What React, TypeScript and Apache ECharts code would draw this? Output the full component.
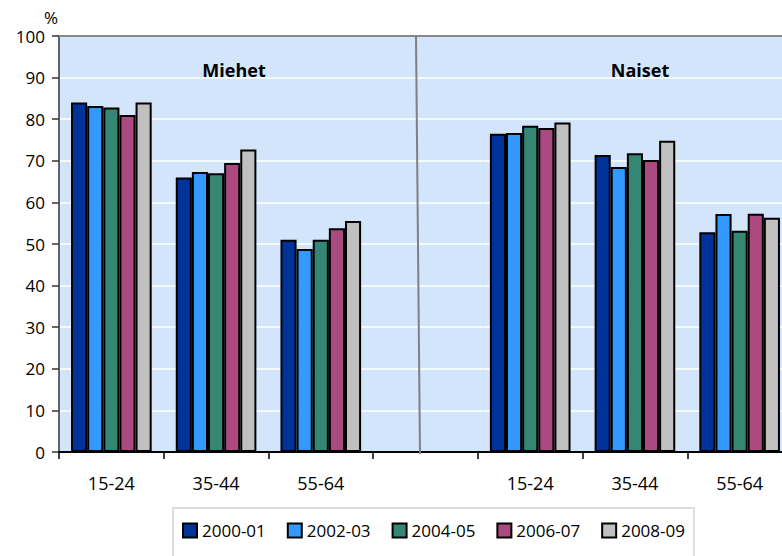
import React, { useEffect, useRef } from "react";
import * as echarts from "echarts";

const categories = ["15-24", "35-44", "55-64", "", "15-24", "35-44", "55-64"];
const seriesNames = ["2000-01", "2002-03", "2004-05", "2006-07", "2008-09"];
const s2000 = [84.0, 66.0, 51.0, "-", 76.5, 71.4, 52.8];
const s2002 = [83.2, 67.3, 48.8, "-", 76.7, 68.5, 57.2];
const s2004 = [82.8, 67.0, 51.0, "-", 78.4, 71.8, 53.2];
const s2006 = [81.0, 69.5, 53.8, "-", 77.9, 70.2, 57.3];
const s2008 = [84.0, 72.7, 55.5, "-", 79.2, 74.8, 56.3];
const seriesValues = [s2000, s2002, s2004, s2006, s2008];
const colors = ["#003399", "#3399FF", "#358774", "#AA4A80", "#C0C0C0"];
const groupLabels = ["Miehet", "Naiset"];
const yTicks = { min: 0, max: 100, interval: 10 };

const FONT = "'Open Sans', 'Noto Sans', sans-serif";

export default function App() {
  const ref = useRef<HTMLDivElement>(null);
  useEffect(() => {
    if (!ref.current) return;
    const chart = echarts.init(ref.current, null, { renderer: "svg" });
    chart.setOption({
      animation: false,
      textStyle: { fontFamily: FONT },
      grid: {
        left: 59,
        top: 36,
        width: 733,
        height: 416,
        show: true,
        backgroundColor: "#D3E5FB",
        borderWidth: 0,
      },
      legend: {
        data: seriesNames,
        left: 173,
        top: 508,
        orient: "horizontal",
        padding: [14, 9, 30, 9],
        backgroundColor: "#ffffff",
        borderColor: "#dedede",
        borderWidth: 2,
        itemWidth: 14,
        itemHeight: 14,
        itemGap: 21,
        icon: "rect",
        itemStyle: { borderColor: "#000", borderWidth: 2 },
        textStyle: { fontSize: 17, color: "#000", fontFamily: FONT },
      },
      xAxis: [
        {
          type: "category",
          data: categories,
          boundaryGap: true,
          axisLine: { show: true, lineStyle: { color: "#000", width: 2 } },
          axisTick: { show: true, interval: 0, length: 7, lineStyle: { color: "#000", width: 1.5 } },
          axisLabel: { interval: 0, margin: 22, fontSize: 18, color: "#000", fontFamily: FONT },
        },
        {
          type: "category",
          position: "top",
          data: categories,
          axisLine: { show: true, lineStyle: { color: "#888", width: 2 } },
          axisTick: { show: false },
          axisLabel: { show: false },
        },
      ],
      yAxis: {
        type: "value",
        min: yTicks.min,
        max: yTicks.max,
        interval: yTicks.interval,
        axisLine: { show: true, lineStyle: { color: "#333", width: 1.5 } },
        axisTick: { show: true, length: 7, lineStyle: { color: "#333", width: 1.5 } },
        axisLabel: { margin: 14, fontSize: 17, color: "#000", fontFamily: FONT },
        splitLine: { show: true, lineStyle: { color: "#ffffff", width: 1.5 } },
      },
      graphic: [
        {
          type: "line",
          shape: { x1: 416, y1: 36, x2: 420, y2: 454 },
          style: { stroke: "#808080", lineWidth: 2 },
          z: 10,
        },
        {
          type: "text",
          x: 234,
          y: 70,
          style: {
            text: groupLabels[0],
            fontSize: 18,
            fontWeight: "bold",
            fontFamily: FONT,
            fill: "#000",
            textAlign: "center",
            textVerticalAlign: "middle",
          },
        },
        {
          type: "text",
          x: 640,
          y: 70,
          style: {
            text: groupLabels[1],
            fontSize: 18,
            fontWeight: "bold",
            fontFamily: FONT,
            fill: "#000",
            textAlign: "center",
            textVerticalAlign: "middle",
          },
        },
        {
          type: "text",
          x: 51,
          y: 17,
          style: {
            text: "%",
            fontSize: 17,
            fontFamily: FONT,
            fill: "#000",
            textAlign: "center",
            textVerticalAlign: "middle",
          },
        },
      ],
      series: seriesNames.map((name, i) => ({
        name,
        type: "bar",
        data: seriesValues[i],
        barGap: "0%",
        barCategoryGap: "23%",
        itemStyle: { color: colors[i], borderColor: "#000", borderWidth: 2 },
      })),
    });
    return () => chart.dispose();
  }, []);
  return (
    <div style={{ position: "fixed", left: 0, top: 0, width: 782, height: 556, overflow: "hidden", background: "#fff" }}>
      <div ref={ref} style={{ width: 800, height: 556 }} />
    </div>
  );
}
